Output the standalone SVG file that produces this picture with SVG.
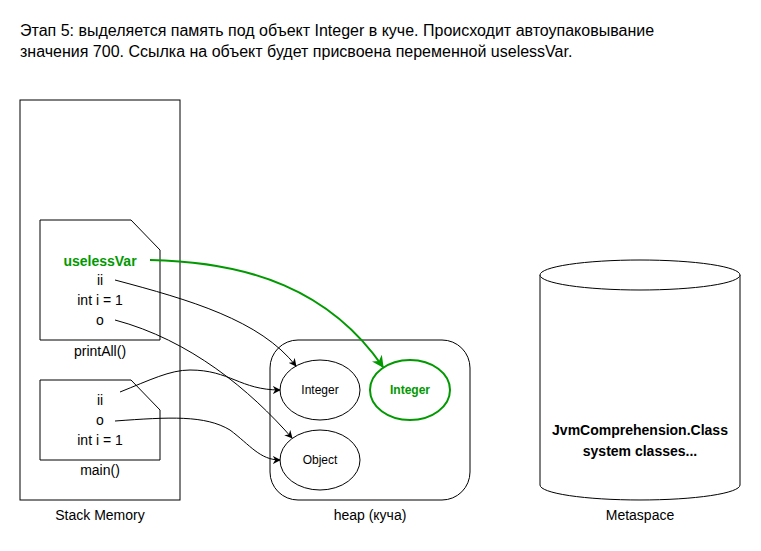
<svg xmlns="http://www.w3.org/2000/svg" width="761" height="551" viewBox="0 0 761 551">
<style>
text{font-family:"Liberation Sans",Arial,sans-serif;fill:#000}
.t14{font-size:14px}
.shape{fill:#fff;stroke:#000;stroke-width:1}
.c{fill:none;stroke:#000;stroke-width:1}
.g{fill:none;stroke:#009900;stroke-width:2}
</style>
<defs>
<marker id="ah" viewBox="0 0 10 10" refX="9" refY="5" markerWidth="8" markerHeight="8" orient="auto" markerUnits="userSpaceOnUse">
<path d="M0,0 L10,5 L0,10 L3,5 Z" fill="#000"/>
</marker>
<marker id="ahg" viewBox="0 0 10 10" refX="9" refY="5" markerWidth="12" markerHeight="12" orient="auto" markerUnits="userSpaceOnUse">
<path d="M0,0 L10,5 L0,10 L3,5 Z" fill="#009900"/>
</marker>
</defs>
<rect width="761" height="551" fill="#fff"/>
<g id="title">
<text x="20" y="36" style="font-size:16px">Этап 5: выделяется память под объект Integer в куче. Происходит автоупаковывание</text>
<text x="20" y="57" style="font-size:16px">значения 700. Ссылка на объект будет присвоена переменной uselessVar.</text>
</g>
<g id="stack">
<rect class="shape" x="20" y="100" width="160" height="400"/>
<text class="t14" x="100" y="520" text-anchor="middle">Stack Memory</text>
</g>
<g id="printAll">
<path class="shape" d="M40,220 H131 L160,250 V340 H40 Z"/>
<text x="100" y="266" text-anchor="middle" style="font-size:14px;font-weight:bold;fill:#009900">uselessVar</text>
<text class="t14" x="100" y="285" text-anchor="middle">ii</text>
<text class="t14" x="100" y="305" text-anchor="middle">int i = 1</text>
<text class="t14" x="100" y="325" text-anchor="middle">o</text>
<text class="t14" x="100" y="356" text-anchor="middle">printAll()</text>
</g>
<g id="main">
<path class="shape" d="M40,380 H131 L160,410 V460 H40 Z"/>
<text class="t14" x="100" y="405" text-anchor="middle">ii</text>
<text class="t14" x="100" y="425" text-anchor="middle">o</text>
<text class="t14" x="100" y="445" text-anchor="middle">int i = 1</text>
<text class="t14" x="100" y="475" text-anchor="middle">main()</text>
</g>
<g id="heap">
<rect class="shape" x="270" y="340" width="200" height="160" rx="28" ry="28"/>
<text class="t14" x="370" y="520" text-anchor="middle">heap (куча)</text>
</g>
<g id="integer1">
<ellipse class="shape" cx="320" cy="390" rx="40" ry="30"/>
<text x="320" y="394" text-anchor="middle" style="font-size:12px">Integer</text>
</g>
<g id="integer2">
<ellipse cx="410" cy="390" rx="40" ry="30" fill="#fff" stroke="#009900" stroke-width="2"/>
<text x="410" y="394" text-anchor="middle" style="font-size:12px;font-weight:bold;fill:#009900">Integer</text>
</g>
<g id="object">
<ellipse class="shape" cx="320" cy="460" rx="40" ry="30"/>
<text x="320" y="464" text-anchor="middle" style="font-size:12px">Object</text>
</g>
<g id="metaspace">
<path class="shape" d="M540,275 V485 A100,15 0 0 0 740,485 V275"/>
<ellipse class="shape" cx="640" cy="275" rx="100" ry="15"/>
<text x="640" y="435" text-anchor="middle" style="font-size:14px;font-weight:bold">JvmComprehension.Class</text>
<text x="640" y="456" text-anchor="middle" style="font-size:14px;font-weight:bold">system classes...</text>
<text class="t14" x="640" y="520" text-anchor="middle">Metaspace</text>
</g>
<g id="connectors">
<path class="c" d="M115,280 C190,300 260,320 296,366" marker-end="url(#ah)"/>
<path class="c" d="M115,320 C190,340 250,390 292,438" marker-end="url(#ah)"/>
<path class="c" d="M120,392 C150,380 170,370 190,370 C230,370 240,390 280,390" marker-end="url(#ah)"/>
<path class="c" d="M115,421 C170,417 205,415 230,430 C250,445 260,460 280,460" marker-end="url(#ah)"/>
<path class="g" d="M150,260 C250,262 330,290 383,367" marker-end="url(#ahg)"/>
</g>
</svg>
